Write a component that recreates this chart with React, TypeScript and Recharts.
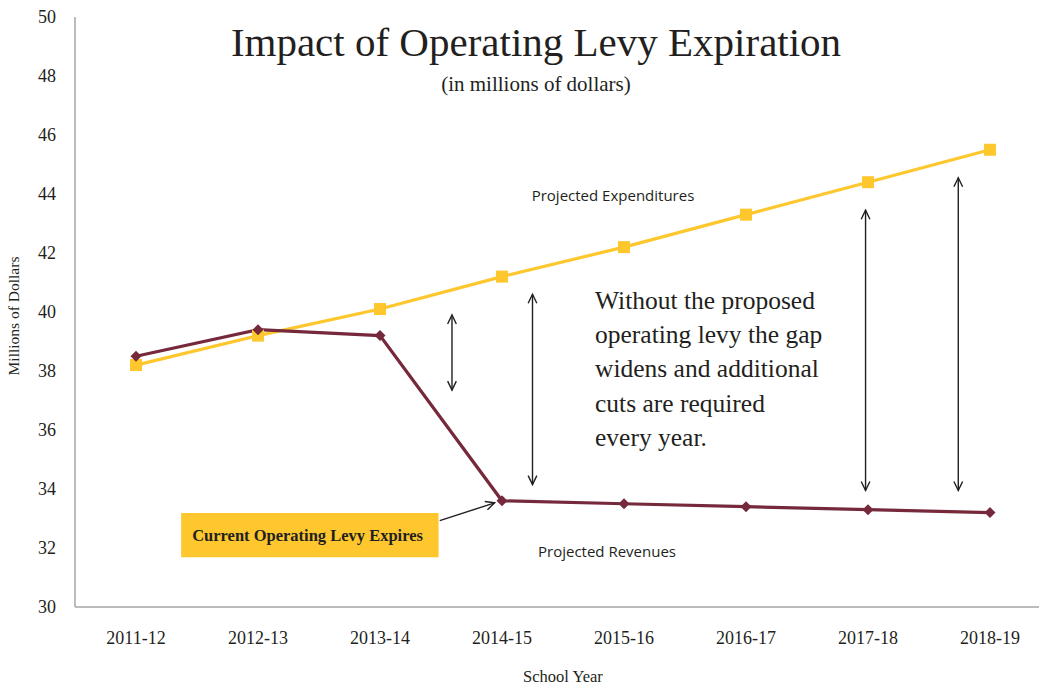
import React from "react";
import {
  LineChart,
  Line,
  XAxis,
  YAxis,
  ReferenceLine,
  ReferenceArea,
} from "recharts";

const schoolYears = ["2011-12", "2012-13", "2013-14", "2014-15", "2015-16", "2016-17", "2017-18", "2018-19"];
const expenditures = [38.2, 39.2, 40.1, 41.2, 42.2, 43.3, 44.4, 45.5];
const revenues = [38.5, 39.4, 39.2, 33.6, 33.5, 33.4, 33.3, 33.2];
const yTicks = [30, 32, 34, 36, 38, 40, 42, 44, 46, 48, 50];

// gap arrows: [x position (category index), top value, bottom value]
const gapArrows: [number, number, number][] = [
  [2.59, 39.9, 37.35],
  [3.25, 40.6, 34.15],
  [5.98, 43.45, 33.95],
  [6.74, 44.55, 33.95],
];

const data = schoolYears.map((year, i) => ({
  idx: i,
  year,
  expenditures: expenditures[i],
  revenues: revenues[i],
}));

const YELLOW = "#fec72e";
const MAROON = "#76293b";
const INK = "#231f20";
const SERIF = "'Liberation Serif', 'Times New Roman', serif";
const SANS = "'Open Sans', 'Noto Sans', sans-serif";

function SquareDot(props: any) {
  const { cx, cy } = props;
  if (cx == null || cy == null) return null;
  return <rect x={cx - 6} y={cy - 6} width={12} height={12} fill={YELLOW} />;
}

function DiamondDot(props: any) {
  const { cx, cy } = props;
  if (cx == null || cy == null) return null;
  const r = 5.5;
  return <path d={`M${cx},${cy - r}L${cx + r},${cy}L${cx},${cy + r}L${cx - r},${cy}Z`} fill={MAROON} />;
}

function arrowHead(x: number, y: number, angle: number, key: string) {
  const len = 10;
  const spread = 0.45;
  const a1 = angle + Math.PI - spread;
  const a2 = angle + Math.PI + spread;
  return (
    <polyline
      key={key}
      points={`${x + len * Math.cos(a1)},${y + len * Math.sin(a1)} ${x},${y} ${x + len * Math.cos(a2)},${y + len * Math.sin(a2)}`}
      fill="none"
      stroke={INK}
      strokeWidth={1.4}
    />
  );
}

function DoubleArrow(props: any) {
  const { x1, y1, x2, y2 } = props;
  const ang = Math.atan2(y2 - y1, x2 - x1);
  return (
    <g>
      <line x1={x1} y1={y1} x2={x2} y2={y2} stroke={INK} strokeWidth={1.4} />
      {arrowHead(x2, y2, ang, "e")}
      {arrowHead(x1, y1, ang + Math.PI, "s")}
    </g>
  );
}

function SingleArrow(props: any) {
  const { x1, y1, x2, y2 } = props;
  const ang = Math.atan2(y2 - y1, x2 - x1);
  return (
    <g>
      <line x1={x1} y1={y1} x2={x2} y2={y2} stroke={INK} strokeWidth={1.4} />
      {arrowHead(x2, y2, ang, "e")}
    </g>
  );
}

function BoxLabel(props: any) {
  const { viewBox } = props;
  if (!viewBox) return null;
  const { x, y, height } = viewBox;
  return (
    <text
      x={x + 11}
      y={y + height / 2 + 6}
      fontFamily={SERIF}
      fontSize={16.5}
      fontWeight="bold"
      fill={INK}
    >
      Current Operating Levy Expires
    </text>
  );
}

export default function App() {
  return (
    <div
      style={{
        position: "absolute",
        left: 0,
        top: 0,
        width: 1039,
        height: 687,
        overflow: "hidden",
        background: "#fff",
      }}
    >
      <LineChart
        width={1060}
        height={687}
        data={data}
        margin={{ top: 17, right: 9, left: 0, bottom: 0 }}
      >
        <XAxis
          dataKey="idx"
          type="number"
          domain={[-0.5, 7.5]}
          ticks={schoolYears.map((_, i) => i)}
          tickFormatter={(i: number) => schoolYears[i]}
          height={80}
          tickLine={false}
          tickSize={0}
          tickMargin={24}
          stroke="#a6a6a6"
          strokeWidth={1.5}
          tick={{ fill: INK, fontSize: 18, fontFamily: SERIF }}
        />
        <YAxis
          domain={[30, 50]}
          ticks={yTicks}
          width={75}
          tickLine={false}
          tickSize={0}
          tickMargin={19}
          stroke="#a6a6a6"
          strokeWidth={1.5}
          tick={{ fill: INK, fontSize: 18, fontFamily: SERIF }}
        />
        <ReferenceArea
          x1={0.37}
          x2={2.48}
          y1={31.69}
          y2={33.19}
          fill={YELLOW}
          fillOpacity={1}
          stroke="none"
          ifOverflow="visible"
          label={<BoxLabel />}
        />
        {gapArrows.map(([x, top, bottom], i) => (
          <ReferenceLine
            key={i}
            segment={[
              { x, y: top },
              { x, y: bottom },
            ]}
            shape={DoubleArrow}
            ifOverflow="visible"
          />
        ))}
        <ReferenceLine
          segment={[
            { x: 2.49, y: 32.93 },
            { x: 2.94, y: 33.53 },
          ]}
          shape={SingleArrow}
          ifOverflow="visible"
        />
        <Line
          dataKey="expenditures"
          stroke={YELLOW}
          strokeWidth={3.2}
          dot={<SquareDot />}
          activeDot={false}
          isAnimationActive={false}
        />
        <Line
          dataKey="revenues"
          stroke={MAROON}
          strokeWidth={3.2}
          dot={<DiamondDot />}
          activeDot={false}
          isAnimationActive={false}
        />
        <text x={536} y={56} textAnchor="middle" fontFamily={SERIF} fontSize={41} fill={INK}>
          Impact of Operating Levy Expiration
        </text>
        <text x={536} y={91} textAnchor="middle" fontFamily={SERIF} fontSize={21} fill={INK}>
          (in millions of dollars)
        </text>
        <text x={613} y={201} textAnchor="middle" fontFamily={SANS} fontSize={15} fill={INK}>
          Projected Expenditures
        </text>
        <text x={607} y={557} textAnchor="middle" fontFamily={SANS} fontSize={15} fill={INK}>
          Projected Revenues
        </text>
        <text fontFamily={SERIF} fontSize={25.5} fill={INK}>
          <tspan x={595} y={309}>Without the proposed</tspan>
          <tspan x={595} y={343}>operating levy the gap</tspan>
          <tspan x={595} y={377}>widens and additional</tspan>
          <tspan x={595} y={412}>cuts are required</tspan>
          <tspan x={595} y={446}>every year.</tspan>
        </text>
        <text
          x={19}
          y={316}
          transform="rotate(-90 19 316)"
          textAnchor="middle"
          fontFamily={SERIF}
          fontSize={15.5}
          fill={INK}
        >
          Millions of Dollars
        </text>
        <text x={563} y={682} textAnchor="middle" fontFamily={SERIF} fontSize={16.5} fill={INK}>
          School Year
        </text>
      </LineChart>
    </div>
  );
}
